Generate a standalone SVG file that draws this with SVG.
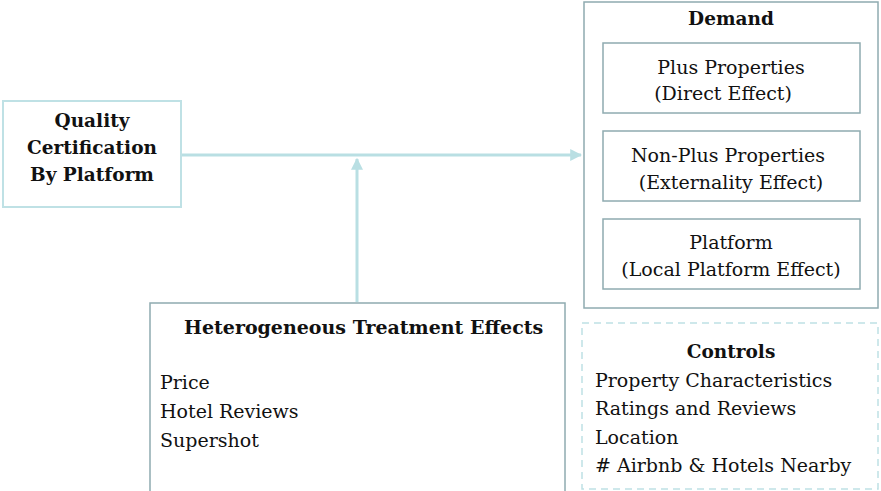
<svg xmlns="http://www.w3.org/2000/svg" width="881" height="491" viewBox="0 0 881 491">
  <style>
    text { font-family: "DejaVu Serif", "Liberation Serif", serif; font-size: 19px; fill: #111111; }
    .b { font-weight: bold; }
    .q { font-size: 18.5px; }
    .c { text-anchor: middle; }
    .light { fill: #ffffff; stroke: #bfe1e5; stroke-width: 2; }
    .dark { fill: #ffffff; stroke: #8fabb0; stroke-width: 1.5; }
    .dash { fill: #ffffff; stroke: #bfe1e5; stroke-width: 1.5; stroke-dasharray: 7 5; }
    .conn { stroke: #b9dfe3; stroke-width: 3; fill: none; }
  </style>
  <defs>
    <marker id="ah" viewBox="0 0 10 10" refX="9" refY="5" markerWidth="4" markerHeight="4" orient="auto" markerUnits="strokeWidth">
      <path d="M0,0 L10,5 L0,10 z" fill="#b9dfe3"/>
    </marker>
  </defs>

  <g id="connectors">
    <line class="conn" x1="181" y1="155" x2="581" y2="155" marker-end="url(#ah)"/>
    <line class="conn" x1="357" y1="302" x2="357" y2="159" marker-end="url(#ah)"/>
  </g>

  <g id="quality">
    <rect class="light" x="3" y="101" width="178" height="106"/>
    <text class="b c q" x="92" y="127">Quality</text>
    <text class="b c q" x="92" y="154">Certification</text>
    <text class="b c q" x="92" y="181">By Platform</text>
  </g>

  <g id="demand">
    <rect class="dark" x="584" y="2" width="294" height="306"/>
    <text class="b c q" x="731" y="25">Demand</text>
  </g>

  <g id="plus">
    <rect class="dark" x="603" y="43" width="257" height="70"/>
    <text class="c" x="731" y="74">Plus Properties</text>
    <text class="c" x="723" y="100">(Direct Effect)</text>
  </g>

  <g id="nonplus">
    <rect class="dark" x="603" y="131" width="257" height="70"/>
    <text class="c" x="728" y="162">Non-Plus Properties</text>
    <text class="c" x="731" y="189">(Externality Effect)</text>
  </g>

  <g id="platform">
    <rect class="dark" x="603" y="219" width="257" height="70"/>
    <text class="c" x="731" y="249">Platform</text>
    <text class="c" x="731" y="276">(Local Platform Effect)</text>
  </g>

  <g id="hte">
    <rect class="dark" x="150" y="303" width="415" height="192"/>
    <text class="b" x="184" y="334">Heterogeneous Treatment Effects</text>
    <text x="160" y="389">Price</text>
    <text x="160" y="418">Hotel Reviews</text>
    <text x="160" y="447">Supershot</text>
  </g>

  <g id="controls">
    <rect class="dash" x="582" y="323" width="296" height="166"/>
    <text class="b c q" x="731" y="358">Controls</text>
    <text x="595" y="387">Property Characteristics</text>
    <text x="595" y="415">Ratings and Reviews</text>
    <text x="595" y="444">Location</text>
    <text x="595" y="472"># Airbnb &amp; Hotels Nearby</text>
  </g>
</svg>
